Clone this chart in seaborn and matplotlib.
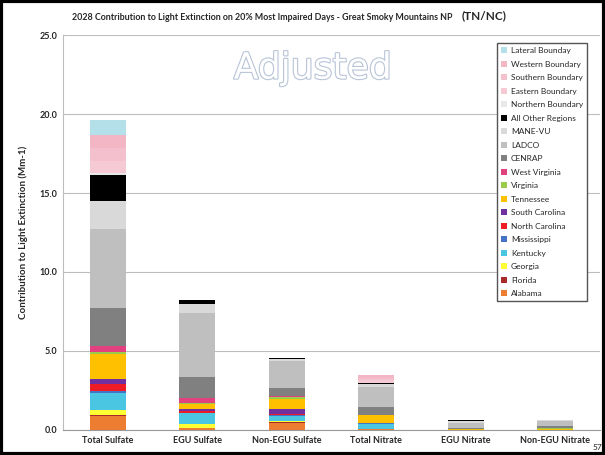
import numpy as np
import pandas as pd
import seaborn as sns
import matplotlib.pyplot as plt
import matplotlib.patheffects as pe
from matplotlib.patches import Rectangle

categories = ['Total Sulfate', 'EGU Sulfate', 'Non-EGU Sulfate',
              'Total Nitrate', 'EGU Nitrate', 'Non-EGU Nitrate']

# legend order = top of stack first
sources = ['Lateral Boundary', 'Western Boundary', 'Southern Boundary',
           'Eastern Boundary', 'Northern Boundary', 'All Other Regions',
           'MANE-VU', 'LADCO', 'CENRAP', 'West Virginia', 'Virginia',
           'Tennessee', 'South Carolina', 'North Carolina', 'Mississippi',
           'Kentucky', 'Georgia', 'Florida', 'Alabama']
legend_labels = list(sources)
legend_labels[0] = 'Lateral Bounday'

colors = ['#b4e0ea', '#f2b6c4', '#f4c0cd', '#f6cad5', '#e8e8e8', '#000000',
          '#d9d9d9', '#bfbfbf', '#808080', '#e2407e', '#9bcb4a',
          '#ffc000', '#7030a0', '#ee1c25', '#4472c4',
          '#4bc6e2', '#ffff33', '#a52a2a', '#ed7d31']

# contributions (Mm-1), one list per category, same order as sources
total_sulfate   = [0.95, 0.8, 0.8, 0.8, 0.1, 1.65, 1.8, 5.0, 2.4, 0.35, 0.15, 1.6, 0.3, 0.45, 0.1, 1.1, 0.3, 0.05, 0.9]
egu_sulfate     = [0.0, 0.0, 0.0, 0.0, 0.0, 0.2, 0.6, 4.05, 1.35, 0.3, 0.05, 0.3, 0.13, 0.12, 0.05, 0.65, 0.3, 0.0, 0.1]
nonegu_sulfate  = [0.0, 0.0, 0.0, 0.0, 0.0, 0.1, 0.1, 1.7, 0.5, 0.1, 0.15, 0.6, 0.3, 0.1, 0.05, 0.3, 0.1, 0.03, 0.45]
total_nitrate   = [0.05, 0.15, 0.15, 0.15, 0.0, 0.1, 0.15, 1.3, 0.5, 0.0, 0.03, 0.45, 0.02, 0.03, 0.02, 0.32, 0.03, 0.0, 0.05]
egu_nitrate     = [0.0, 0.0, 0.0, 0.0, 0.0, 0.08, 0.1, 0.3, 0.1, 0.0, 0.0, 0.02, 0.0, 0.0, 0.0, 0.02, 0.0, 0.0, 0.01]
nonegu_nitrate  = [0.0, 0.0, 0.0, 0.0, 0.0, 0.0, 0.05, 0.35, 0.08, 0.0, 0.1, 0.03, 0.0, 0.0, 0.0, 0.02, 0.0, 0.0, 0.0]

values = [total_sulfate, egu_sulfate, nonegu_sulfate,
          total_nitrate, egu_nitrate, nonegu_nitrate]

rows = []
for cat, vals in zip(categories, values):
    for src, v in zip(sources, vals):
        rows.append({'category': cat, 'source': src, 'value': v})
df = pd.DataFrame(rows)

sns.set_style('white')
plt.rcParams['font.family'] = ['Lato', 'DejaVu Sans']

fig = plt.figure(figsize=(6.05, 4.55), dpi=100)
ax = fig.add_axes([0.104, 0.055, 0.888, 0.868])

sns.histplot(data=df, x='category', hue='source', weights='value',
             hue_order=sources, palette=colors, multiple='stack',
             discrete=True, shrink=0.4, alpha=1, linewidth=0,
             edgecolor='none', ax=ax)

ax.set_xlim(-0.5, 5.5)
ax.set_ylim(0, 25)
ax.set_yticks(np.arange(0, 26, 5))
ax.set_yticklabels([f'{v:.1f}' for v in np.arange(0, 26, 5)],
                   fontsize=6.5, fontweight='bold')
ax.set_xticks(range(len(categories)))
ax.set_xticklabels(categories, fontsize=6.5, fontweight='bold')
ax.set_xlabel('')
ax.set_ylabel('Contribution to Light Extinction (Mm-1)', fontsize=7,
              fontweight='bold', labelpad=8)
ax.yaxis.grid(True, color='#bdbdbd', linewidth=0.8)
ax.set_axisbelow(True)
for s in ['top', 'right']:
    ax.spines[s].set_visible(False)
ax.spines['left'].set_color('#bdbdbd')
ax.spines['bottom'].set_color('#999999')
ax.tick_params(axis='both', length=0, pad=4)

sns.move_legend(ax, 'upper left', bbox_to_anchor=(0.8, 0.99), title=None,
                fontsize=6, frameon=True, handlelength=0.7, handleheight=0.7,
                handletextpad=0.5, labelspacing=0.78, borderpad=0.5,
                fancybox=False, framealpha=1, edgecolor='#555555')
leg = ax.get_legend()
for t, lab in zip(leg.get_texts(), legend_labels):
    t.set_text(lab)

# title sized so it spans x=72..455 px like the reference
title = fig.text(72 / 605, 1 - 17 / 455,
                 '2028 Contribution to Light Extinction on 20% Most Impaired Days - Great Smoky Mountains NP',
                 fontsize=7, fontweight='bold', ha='left', va='center')
renderer = fig.canvas.get_renderer()
w = title.get_window_extent(renderer).width
title.set_fontsize(7 * 383 / w)
fig.text(462 / 605, 1 - 16 / 455, '(TN/NC)', fontsize=8.5, fontweight='bold',
         ha='left', va='center')

ax.text(0.465, 0.915, 'Adjusted', transform=ax.transAxes, fontsize=26,
        color='white', ha='center', va='center', family='DejaVu Sans',
        path_effects=[pe.withStroke(linewidth=1.6, foreground='#b8c4d6')])

fig.text(597 / 605, 1 - 447 / 455, '57', fontsize=6, ha='center', va='center')

fig.patches.append(Rectangle((0.002, 0.003), 0.996, 0.994, transform=fig.transFigure,
                             fill=False, edgecolor='black', linewidth=3))

fig.savefig('out.png', dpi=100)
